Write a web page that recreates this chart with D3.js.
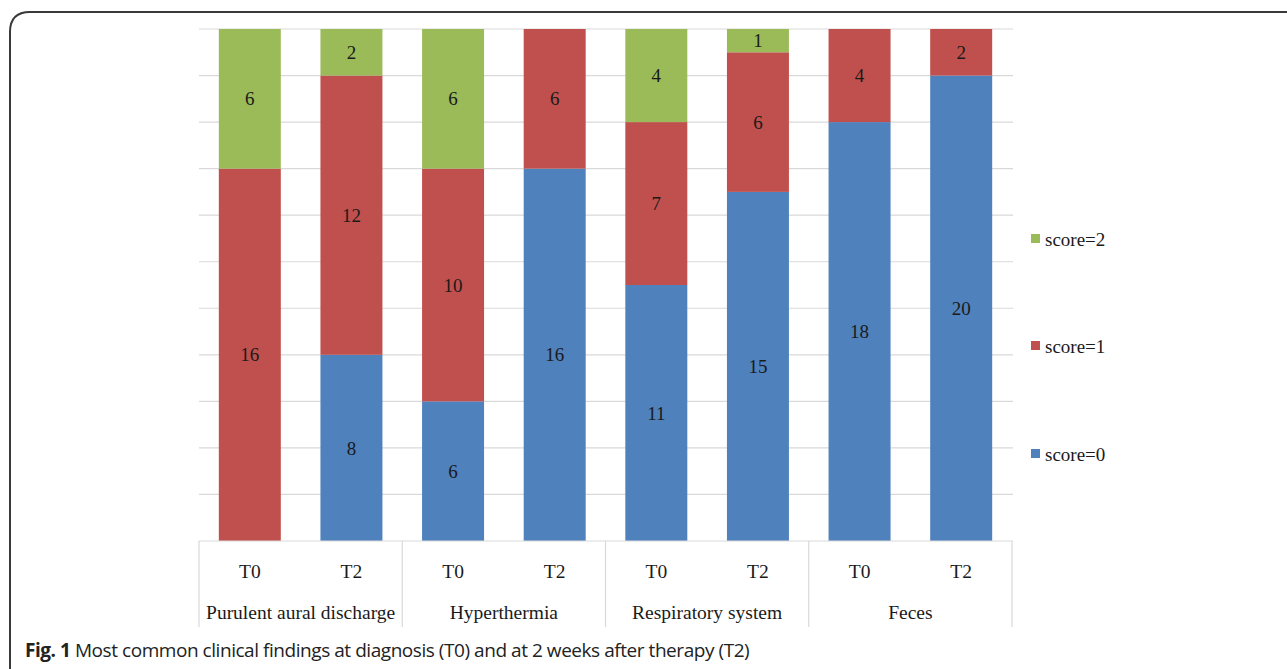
<!DOCTYPE html>
<html>
<head>
<meta charset="utf-8">
<script src="https://cdn.jsdelivr.net/npm/d3@7"></script>
<style>
  html, body { margin: 0; padding: 0; background: #fff; }
  svg { display: block; }
</style>
</head>
<body>
<svg id="chart" width="1287" height="669"></svg>
<script>
// ---- data ----
const groups = ["Purulent aural discharge", "Hyperthermia", "Respiratory system", "Feces"];
const times = ["T0", "T2"];
const seriesNames = ["score=0", "score=1", "score=2"];
const score0 = [0, 8, 6, 16, 11, 15, 18, 20];
const score1 = [16, 12, 10, 6, 7, 6, 4, 2];
const score2 = [6, 2, 6, 0, 4, 1, 0, 0];
const yTicks = [0, 2, 4, 6, 8, 10, 12, 14, 16, 18, 20, 22];
const colors = ["#4F81BD", "#C0504D", "#9BBB59"];
const caption = "Most common clinical findings at diagnosis (T0) and at 2 weeks after therapy (T2)";

// build rows
const rows = [];
groups.forEach((g, gi) => times.forEach((t, ti) => {
  const i = gi * 2 + ti;
  rows.push({ key: g + "|" + t, group: g, time: t, s0: score0[i], s1: score1[i], s2: score2[i] });
}));

const svg = d3.select("#chart");
const serif = "'Liberation Serif', 'Times New Roman', serif";

// frame
svg.append("path")
  .attr("d", "M10,669 L10,32 Q10,12 30,12 L1287,12")
  .attr("fill", "none").attr("stroke", "#3a3a3a").attr("stroke-width", 2);

const x = d3.scaleBand().domain(rows.map(r => r.key)).range([199, 1012]).paddingInner(0.39).paddingOuter(0.195);
const y = d3.scaleLinear().domain([0, 22]).range([541, 29]);

// gridlines
svg.append("g").selectAll("line").data(yTicks.slice(1)).join("line")
  .attr("x1", 199).attr("x2", 1013)
  .attr("y1", d => y(d)).attr("y2", d => y(d))
  .attr("stroke", "#d9d9d9").attr("stroke-width", 1.2);

// stack
const stack = d3.stack().keys(["s0", "s1", "s2"]);
const stacked = stack(rows);

const layers = svg.append("g").selectAll("g").data(stacked).join("g")
  .attr("fill", (d, i) => colors[i]);

layers.selectAll("rect").data(d => d.filter(p => p[1] - p[0] > 0)).join("rect")
  .attr("x", d => x(d.data.key))
  .attr("width", x.bandwidth())
  .attr("y", d => y(d[1]))
  .attr("height", d => y(d[0]) - y(d[1]));

// value labels
layers.each(function (layer) {
  d3.select(this).selectAll("text").data(layer.filter(p => p[1] - p[0] > 0)).join("text")
    .attr("x", d => x(d.data.key) + x.bandwidth() / 2)
    .attr("y", d => y((d[0] + d[1]) / 2))
    .attr("dy", "0.35em")
    .attr("text-anchor", "middle")
    .attr("fill", "#1a1a1a")
    .style("font-family", serif).style("font-size", "19px")
    .text(d => d[1] - d[0]);
});

// x axis line
svg.append("line").attr("x1", 199).attr("x2", 1013).attr("y1", 541).attr("y2", 541)
  .attr("stroke", "#d9d9d9").attr("stroke-width", 1.2);

// group separators
const groupEdges = [0, 2, 4, 6, 8].map(i => i < 8 ? x(rows[i].key) - x.step() * x.paddingInner() / 2 : 1012);
svg.append("g").selectAll("line").data(groupEdges).join("line")
  .attr("x1", d => d).attr("x2", d => d)
  .attr("y1", 541).attr("y2", 627)
  .attr("stroke", "#d9d9d9").attr("stroke-width", 1.2);

// time labels
svg.append("g").selectAll("text").data(rows).join("text")
  .attr("x", d => x(d.key) + x.bandwidth() / 2)
  .attr("y", 578)
  .attr("text-anchor", "middle")
  .attr("fill", "#1a1a1a")
  .style("font-family", serif).style("font-size", "19.5px")
  .text(d => d.time);

// group labels
svg.append("g").selectAll("text").data(groups).join("text")
  .attr("x", (d, i) => (groupEdges[i] + groupEdges[i + 1]) / 2)
  .attr("y", 619)
  .attr("text-anchor", "middle")
  .attr("fill", "#1a1a1a")
  .style("font-family", serif).style("font-size", "19.5px")
  .text(d => d);

// legend
const legendY = [455, 347, 240];
const lg = svg.append("g").selectAll("g").data(seriesNames).join("g")
  .attr("transform", (d, i) => `translate(1031,${legendY[i]})`);
lg.append("rect").attr("x", 0).attr("y", -6).attr("width", 9).attr("height", 9)
  .attr("fill", (d, i) => colors[i]);
lg.append("text").attr("x", 14).attr("y", 0).attr("dy", "0.32em")
  .attr("fill", "#1a1a1a")
  .style("font-family", serif).style("font-size", "19px")
  .text(d => d);

// caption
const cap = svg.append("text").attr("x", 25).attr("y", 657)
  .style("font-family", "'Open Sans', 'Noto Sans', sans-serif").style("font-size", "19px")
  .style("letter-spacing", "-0.45px")
  .attr("fill", "#222");
cap.append("tspan").style("font-weight", "bold").text("Fig. 1");
cap.append("tspan").text(" " + caption);
</script>
</body>
</html>
